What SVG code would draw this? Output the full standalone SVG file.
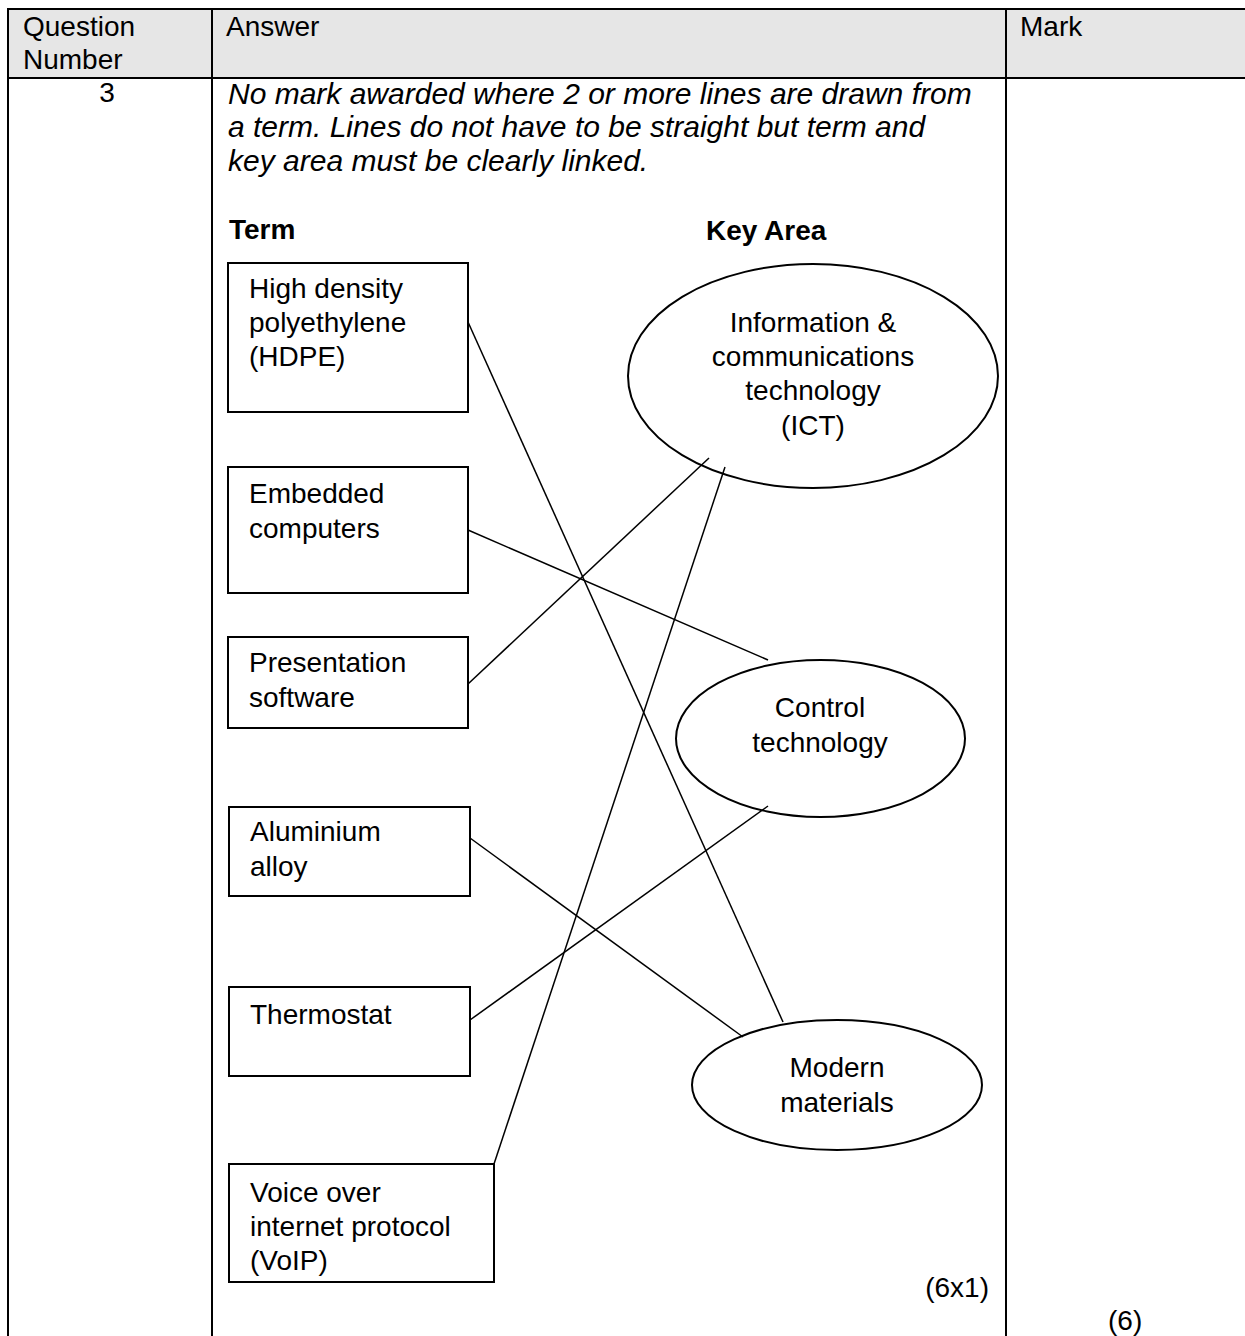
<svg xmlns="http://www.w3.org/2000/svg" width="1245" height="1336" viewBox="0 0 1245 1336">
<style>
  text { font-family: "Liberation Sans", Arial, sans-serif; font-size: 28px; fill: #000; }
  .it { font-style: italic; font-size: 30px; }
  .b { font-weight: bold; }
  .mid { text-anchor: middle; }
  .grid { stroke: #000; stroke-width: 2; fill: none; }
  .box { stroke: #000; stroke-width: 2; fill: #fff; }
  .link { stroke: #000; stroke-width: 1.5; fill: none; }
</style>
<rect width="1245" height="1336" fill="#fff"/>
<g id="table">
  <rect x="8" y="9" width="1240" height="69" fill="#e6e6e6"/>
  <line class="grid" x1="7" y1="9" x2="1245" y2="9"/>
  <line class="grid" x1="7" y1="78" x2="1245" y2="78"/>
  <line class="grid" x1="8" y1="8" x2="8" y2="1336"/>
  <line class="grid" x1="212" y1="8" x2="212" y2="1336"/>
  <line class="grid" x1="1006" y1="8" x2="1006" y2="1336"/>
  <text x="23" y="36">Question</text>
  <text x="23" y="69">Number</text>
  <text x="226" y="36">Answer</text>
  <text x="1020" y="36">Mark</text>
  <text x="107" y="102" class="mid">3</text>
  <text x="228" y="104" class="it">No mark awarded where 2 or more lines are drawn from</text>
  <text x="228" y="137" class="it">a term. Lines do not have to be straight but term and</text>
  <text x="228" y="171" class="it">key area must be clearly linked.</text>
  <text x="229" y="239" class="b">Term</text>
  <text x="706" y="240" class="b">Key Area</text>
  <text x="989" y="1297" text-anchor="end">(6x1)</text>
  <text x="1108" y="1330">(6)</text>
</g>
<g id="connectors">
  <line class="link" x1="468" y1="322" x2="783" y2="1022"/>
  <line class="link" x1="468" y1="530" x2="768" y2="660"/>
  <line class="link" x1="468" y1="684" x2="709" y2="458"/>
  <line class="link" x1="470" y1="838" x2="743" y2="1037"/>
  <line class="link" x1="470" y1="1020" x2="768" y2="806"/>
  <line class="link" x1="494" y1="1164" x2="725" y2="467"/>
</g>
<g id="term-hdpe">
  <rect class="box" x="228" y="263" width="240" height="149"/>
  <text x="249" y="298">High density</text>
  <text x="249" y="332">polyethylene</text>
  <text x="249" y="366">(HDPE)</text>
</g>
<g id="term-embedded">
  <rect class="box" x="228" y="467" width="240" height="126"/>
  <text x="249" y="503">Embedded</text>
  <text x="249" y="538">computers</text>
</g>
<g id="term-presentation">
  <rect class="box" x="228" y="637" width="240" height="91"/>
  <text x="249" y="672">Presentation</text>
  <text x="249" y="707">software</text>
</g>
<g id="term-aluminium">
  <rect class="box" x="229" y="807" width="241" height="89"/>
  <text x="250" y="841">Aluminium</text>
  <text x="250" y="876">alloy</text>
</g>
<g id="term-thermostat">
  <rect class="box" x="229" y="987" width="241" height="89"/>
  <text x="250" y="1024">Thermostat</text>
</g>
<g id="term-voip">
  <rect class="box" x="229" y="1164" width="265" height="118"/>
  <text x="250" y="1202">Voice over</text>
  <text x="250" y="1236">internet protocol</text>
  <text x="250" y="1270">(VoIP)</text>
</g>
<g id="area-ict">
  <ellipse cx="813" cy="376" rx="185" ry="112" fill="none" stroke="#000" stroke-width="2"/>
  <text x="813" y="332" class="mid">Information &amp;</text>
  <text x="813" y="366" class="mid">communications</text>
  <text x="813" y="400" class="mid">technology</text>
  <text x="813" y="435" class="mid">(ICT)</text>
</g>
<g id="area-control">
  <ellipse cx="820.5" cy="738.5" rx="144.5" ry="78.5" fill="none" stroke="#000" stroke-width="2"/>
  <text x="820" y="717" class="mid">Control</text>
  <text x="820" y="752" class="mid">technology</text>
</g>
<g id="area-modern">
  <ellipse cx="837" cy="1085" rx="145" ry="65" fill="none" stroke="#000" stroke-width="2"/>
  <text x="837" y="1077" class="mid">Modern</text>
  <text x="837" y="1112" class="mid">materials</text>
</g>
</svg>
